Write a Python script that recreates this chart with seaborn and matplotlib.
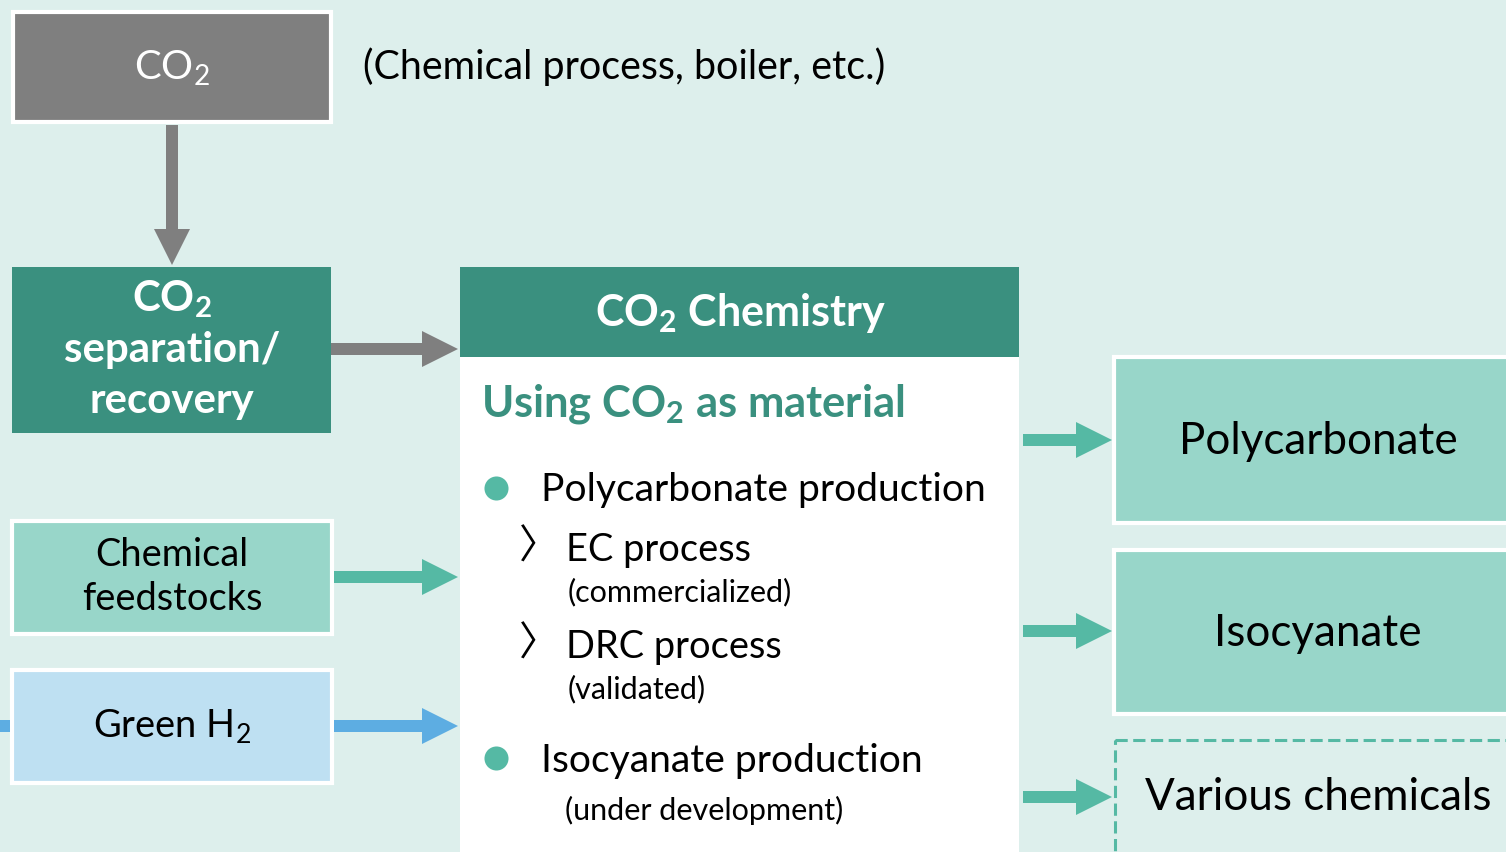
import matplotlib
matplotlib.use("Agg")
import matplotlib.pyplot as plt
from matplotlib import patches
import seaborn as sns

# colours
BG = "#DDEFEC"
GRAY = "#7F7F7F"
TEAL_DARK = "#3A907F"
TEAL_MID = "#55B9A4"
TEAL_LIGHT = "#98D6C9"
BLUE_LIGHT = "#BEE0F2"
BLUE = "#5DADE2"

# labels
co2 = r"CO$_{\mathregular{2}}$"
source_label = co2
source_note = "(Chemical process, boiler, etc.)"
capture_lines = [co2, "separation/", "recovery"]
input_labels = ["Chemical\nfeedstocks", r"Green H$_{\mathregular{2}}$"]
center_title = co2 + " Chemistry"
center_subtitle = "Using " + co2 + " as material"
bullet_items = ["Polycarbonate production", "Isocyanate production"]
bullet_notes = ["", "(under development)"]
sub_items = ["EC process", "DRC process"]
sub_notes = ["(commercialized)", "(validated)"]
products = ["Polycarbonate", "Isocyanate", "Various chemicals"]

sns.set_theme(style="white")
plt.rcParams["font.family"] = ["Lato", "DejaVu Sans"]
plt.rcParams["mathtext.fontset"] = "custom"
plt.rcParams["mathtext.rm"] = "Lato"


def pt(px):
    return px * 0.72


fig = plt.figure(figsize=(15.06, 8.52), dpi=100)
fig.patch.set_facecolor(BG)
ax = fig.add_axes([0, 0, 1, 1])
ax.set_facecolor(BG)


def box(x0, y0, x1, y1, fc, ec="white", lw=3, ls="-"):
    ax.add_patch(patches.Rectangle((x0, y0), x1 - x0, y1 - y0, facecolor=fc,
                                   edgecolor=ec, linewidth=lw, linestyle=ls))


def arrow(x0, y, x1, color):
    ax.add_patch(patches.FancyArrow(x0, y, x1 - x0, 0, width=12, head_width=36,
                                    head_length=36, length_includes_head=True,
                                    color=color, lw=0))


# source CO2
box(13, 12, 331, 122, GRAY, lw=3)
ax.text(172, 68, source_label, color="white", fontsize=pt(40), ha="center", va="center")
ax.text(363, 67, source_note, color="black", fontsize=pt(39.5), ha="left", va="center")
ax.add_patch(patches.FancyArrow(172, 125, 0, 140, width=12, head_width=36,
                                head_length=36, length_includes_head=True,
                                color=GRAY, lw=0))

# capture box
box(12, 267, 331, 433, TEAL_DARK, ec="none", lw=0)
for y, line in zip([299, 350, 401], capture_lines):
    ax.text(172, y, line, color="white", fontsize=pt(42), fontweight="bold",
            ha="center", va="center")
arrow(331, 349, 458, GRAY)

# inputs
box(12, 521, 332, 634, TEAL_LIGHT)
ax.text(172, 577, input_labels[0], color="black", fontsize=pt(38), ha="center",
        va="center", linespacing=1.3)
arrow(334, 577, 458, TEAL_MID)
box(12, 670, 332, 783, BLUE_LIGHT)
ax.text(172, 727, input_labels[1], color="black", fontsize=pt(38), ha="center", va="center")
arrow(334, 726, 458, BLUE)
ax.plot([0, 10], [726, 726], color=BLUE, lw=pt(12), solid_capstyle="butt")

# centre block
box(460, 357, 1019, 860, "white", ec="none", lw=0)
box(460, 267, 1019, 357, TEAL_DARK, ec="none", lw=0)
ax.text(740, 313, center_title, color="white", fontsize=pt(43), fontweight="bold",
        ha="center", va="center")
ax.text(481, 404, center_subtitle, color=TEAL_DARK, fontsize=pt(43.5), fontweight="bold",
        ha="left", va="center")

bullet_y = [490, 761]
sns.scatterplot(x=[496, 496], y=[488, 758], s=300, color=TEAL_MID, linewidth=0,
                ax=ax, legend=False, zorder=3)
for y, item in zip(bullet_y, bullet_items):
    ax.text(541, y, item, color="black", fontsize=pt(39), ha="left", va="center")
ax.text(565, 810, bullet_notes[1], color="black", fontsize=pt(30.5), ha="left", va="center")

for y, item, note in zip([550, 647], sub_items, sub_notes):
    ax.text(519, y - 2, "\u3009", color="black", fontsize=pt(40), ha="left",
            va="center", family=["Noto Sans CJK JP", "DejaVu Sans"])
    ax.text(566, y, item, color="black", fontsize=pt(38), ha="left", va="center")
    ax.text(568, y + 42, note, color="black", fontsize=pt(30.5), ha="left", va="center")

# products
prod_y = [440, 631, 797]
box(1114, 357, 1520, 523, TEAL_LIGHT)
box(1114, 550, 1520, 714, TEAL_LIGHT)
box(1115, 740, 1520, 860, BG, ec=TEAL_MID, lw=2.2, ls=(0, (4, 1.8)))
for y, name in zip(prod_y, products):
    arrow(1023, y, 1112, TEAL_MID)
ax.text(1318, 441, products[0], color="black", fontsize=pt(44), ha="center", va="center")
ax.text(1318, 634, products[1], color="black", fontsize=pt(44), ha="center", va="center")
ax.text(1318, 798, products[2], color="black", fontsize=pt(44), ha="center", va="center")

ax.set_xlim(0, 1506)
ax.set_ylim(852, 0)
ax.axis("off")
fig.savefig("out.png", dpi=100, facecolor=BG)
